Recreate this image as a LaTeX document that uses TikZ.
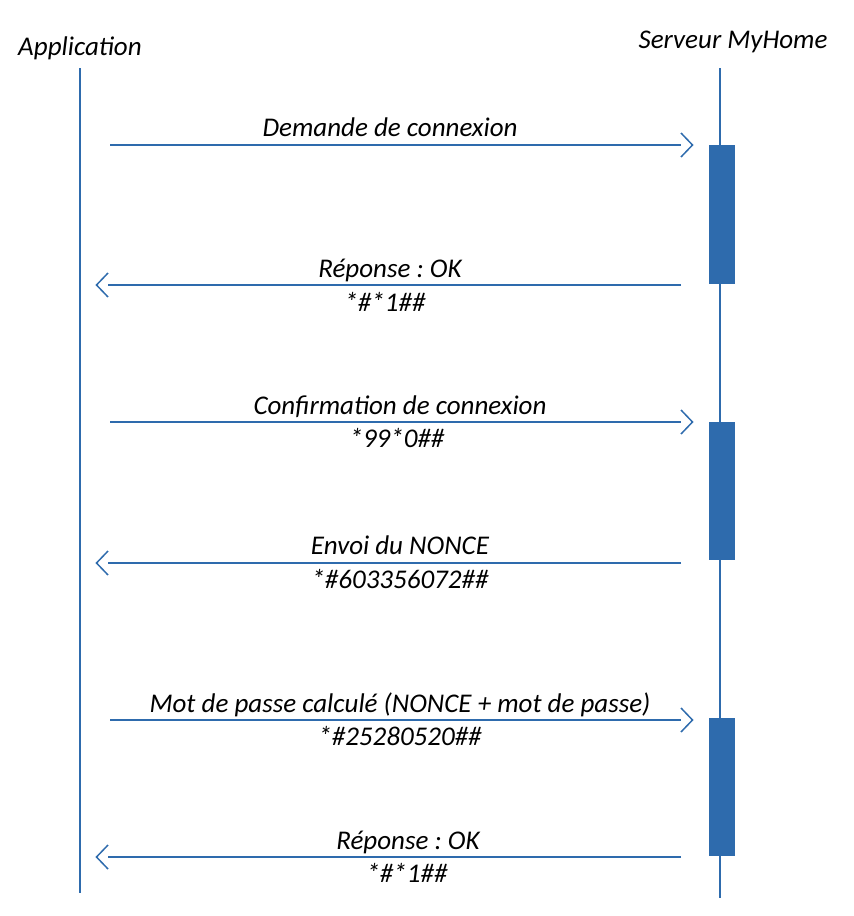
\documentclass[tikz,border=0pt]{standalone}
\usepackage{fontspec}
\setmainfont{Carlito}
\usetikzlibrary{arrows.meta}
\definecolor{seqblue}{RGB}{46,107,173}
\pgfdeclarearrow{
  name=chev,
  setup code={%
    \pgfarrowssettipend{0pt}%
    \pgfarrowssetlineend{-12pt}%
    \pgfarrowssetbackend{-12pt}%
    \pgfarrowssetvisualbackend{-12pt}%
  },
  drawing code={%
    \pgfsetlinewidth{1.5pt}%
    \pgfsetmiterjoin
    \pgfsetbuttcap
    \pgfpathmoveto{\pgfpoint{-12pt}{12pt}}%
    \pgfpathlineto{\pgfpoint{-0.5pt}{0pt}}%
    \pgfpathlineto{\pgfpoint{-12pt}{-12pt}}%
    \pgfusepathqstroke
  },
  defaults={}
}
\tikzset{
  lifeline/.style={draw=seqblue, line width=2pt},
  actbox/.style={fill=seqblue, draw=none},
  msg/.style={draw=seqblue, line width=2pt, -{chev}},
  lbl/.style={anchor=base, inner sep=0pt, font=\fontsize{27}{32}\selectfont\itshape},
}
\begin{document}
\frenchspacing
\begin{tikzpicture}[x=1pt,y=-1pt]
\useasboundingbox (0,0) rectangle (854,916);
% actors
\node[lbl] (app) at (80,55) {Application};
\node[lbl] (srv) at (733,48) {Serveur MyHome};
% lifelines
\coordinate (appTop) at (80,68);
\coordinate (appBot) at (80,893);
\coordinate (srvTop) at (720,68);
\coordinate (srvBot) at (720,898);
\draw[lifeline] (appTop) -- (appBot);
\draw[lifeline] (srvTop) -- (srvBot);
% activation boxes
\fill[actbox] (709,145) rectangle (735,284);
\fill[actbox] (709,422) rectangle (735,560);
\fill[actbox] (709,718) rectangle (735,856);
% message endpoints
\coordinate (m1s) at (110,145); \coordinate (m1e) at (693,145);
\coordinate (m2s) at (681,285); \coordinate (m2e) at (96,285);
\coordinate (m3s) at (110,422); \coordinate (m3e) at (693,422);
\coordinate (m4s) at (681,563); \coordinate (m4e) at (96,563);
\coordinate (m5s) at (110,720); \coordinate (m5e) at (693,720);
\coordinate (m6s) at (681,857); \coordinate (m6e) at (96,857);
\draw[msg] (m1s) -- (m1e);
\draw[msg] (m2s) -- (m2e);
\draw[msg] (m3s) -- (m3e);
\draw[msg] (m4s) -- (m4e);
\draw[msg] (m5s) -- (m5e);
\draw[msg] (m6s) -- (m6e);
% labels
\node[lbl] (l1) at (390,136) {Demande de connexion};
\node[lbl] (l2a) at (390,277) {Réponse : OK};
\node[lbl] (l2b) at (385,311) {*\#*1\#\#};
\node[lbl] (l3a) at (400,414) {Confirmation de connexion};
\node[lbl] (l3b) at (397,447) {*99*0\#\#};
\node[lbl] (l4a) at (400,554) {Envoi du NONCE};
\node[lbl] (l4b) at (400,588) {*\#603356072\#\#};
\node[lbl] (l5a) at (400,712) {Mot de passe calculé (NONCE + mot de passe)};
\node[lbl] (l5b) at (400,745) {*\#25280520\#\#};
\node[lbl] (l6a) at (408,849) {Réponse : OK};
\node[lbl] (l6b) at (407,882) {*\#*1\#\#};
\end{tikzpicture}
\end{document}
